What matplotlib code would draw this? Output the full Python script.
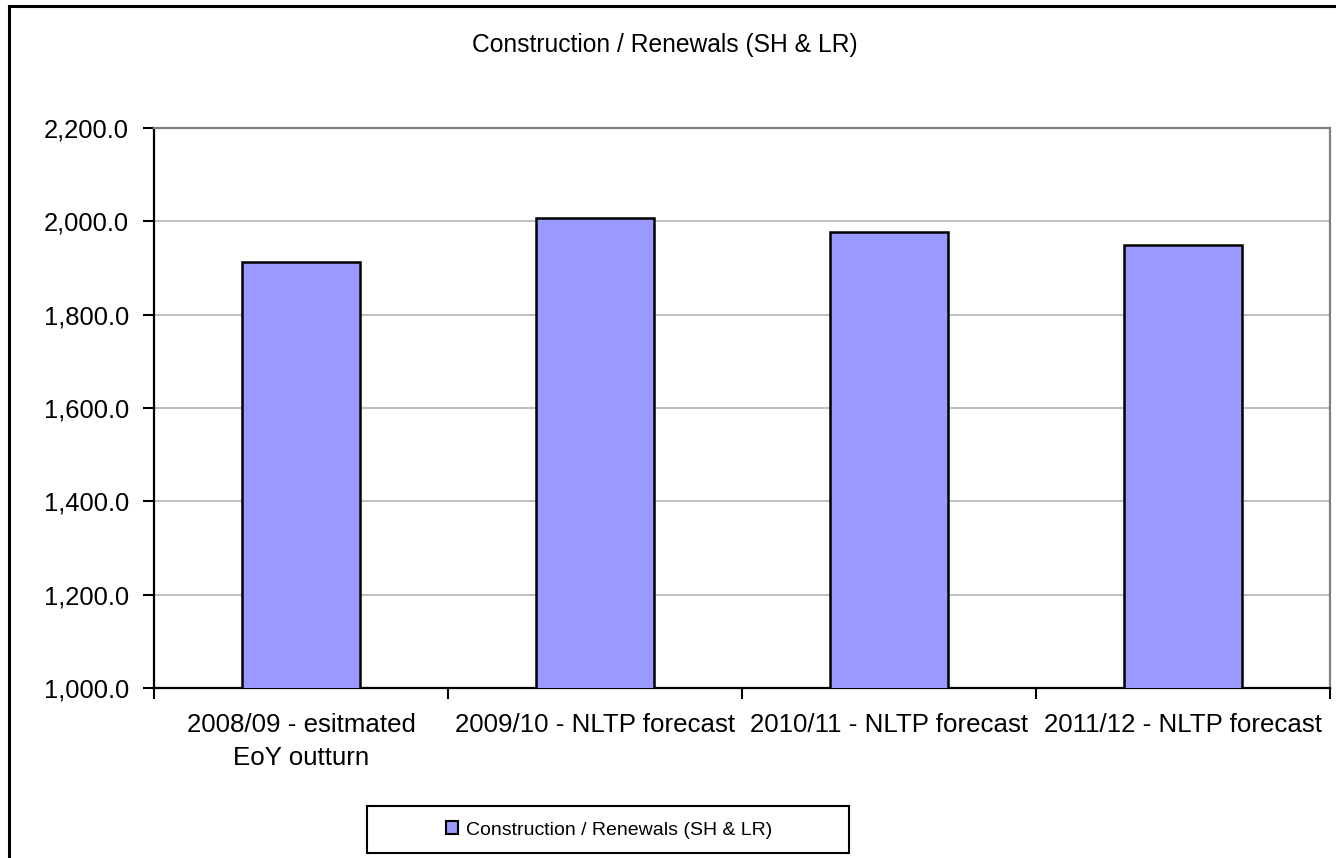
import matplotlib
matplotlib.use("Agg")
import matplotlib.pyplot as plt
from matplotlib.lines import Line2D
from matplotlib.patches import Patch, Rectangle
from matplotlib.ticker import FuncFormatter, FixedLocator

categories = ["2008/09 - esitmated\nEoY outturn", "2009/10 - NLTP forecast",
              "2010/11 - NLTP forecast", "2011/12 - NLTP forecast"]
values = [1913, 2008, 1978, 1949]
series_name = "Construction / Renewals (SH & LR)"
title = "Construction / Renewals (SH & LR)"
yticks = [1000, 1200, 1400, 1600, 1800, 2000, 2200]

plt.rcParams['font.family'] = ['Liberation Sans', 'DejaVu Sans']

W, H = 1336, 858
fig = plt.figure(figsize=(W / 100, H / 100), dpi=100)

# plot area in pixels
left, right, top, bottom = 154, 1330, 128, 688
ax = fig.add_axes([left / W, 1 - bottom / H, (right - left) / W, (bottom - top) / H])

x = list(range(len(categories)))
ax.bar(x, values, width=0.40, color="#9999FF", edgecolor="black", linewidth=1.8, zorder=3)
ax.set_xlim(-0.5, len(categories) - 0.5)
ax.set_ylim(1000, 2200)
ax.yaxis.set_major_locator(FixedLocator(yticks))
ax.yaxis.set_major_formatter(FuncFormatter(lambda v, p: f"{v:,.1f}"))
ax.grid(axis="y", color="#C0C0C0", linewidth=1.5, zorder=0)
ax.set_axisbelow(True)

# x ticks: labels at centers, tick marks at boundaries
ax.set_xticks(x)
ax.set_xticklabels(categories, fontsize=18.6, linespacing=1.45)
ax.tick_params(axis="x", which="major", length=0, pad=18)
ax.set_xticks([i - 0.5 for i in range(len(categories) + 1)], minor=True)
ax.tick_params(axis="x", which="minor", length=8, width=1.5, color="black", direction="out")
ax.tick_params(axis="y", length=8, width=1.5, color="black", labelsize=18.4, pad=10)

for s in ["left", "bottom"]:
    ax.spines[s].set_color("black")
    ax.spines[s].set_linewidth(1.6)
for s in ["top", "right"]:
    ax.spines[s].set_color("#808080")
    ax.spines[s].set_linewidth(1.6)

fig.text(665 / W, 1 - 45 / H, title, fontsize=17.7, ha="center", va="center")

# legend frame
fig.add_artist(Rectangle((367 / W, 1 - 853 / H), (849 - 367) / W, (853 - 806) / H,
                         transform=fig.transFigure, facecolor="white", edgecolor="black",
                         linewidth=1.5, zorder=1))
handle = Patch(facecolor="#9999FF", edgecolor="black", linewidth=1.5)
leg = fig.legend([handle], [series_name], loc="center",
                 bbox_to_anchor=(609 / W, 1 - 830 / H), fontsize=14.0,
                 frameon=False, handlelength=0.6, handleheight=0.6, handletextpad=0.4,
                 borderpad=0.0, borderaxespad=0)
leg.set_zorder(2)

# outer chart border (top & left visible)
fig.add_artist(Line2D([8.5 / W, 8.5 / W], [0, 1 - 6 / H], color="black", linewidth=2.2,
                      transform=fig.transFigure))
fig.add_artist(Line2D([8.5 / W, 1], [1 - 6 / H, 1 - 6 / H], color="black", linewidth=2.2,
                      transform=fig.transFigure))

fig.savefig("out.png", dpi=100, facecolor="white")
